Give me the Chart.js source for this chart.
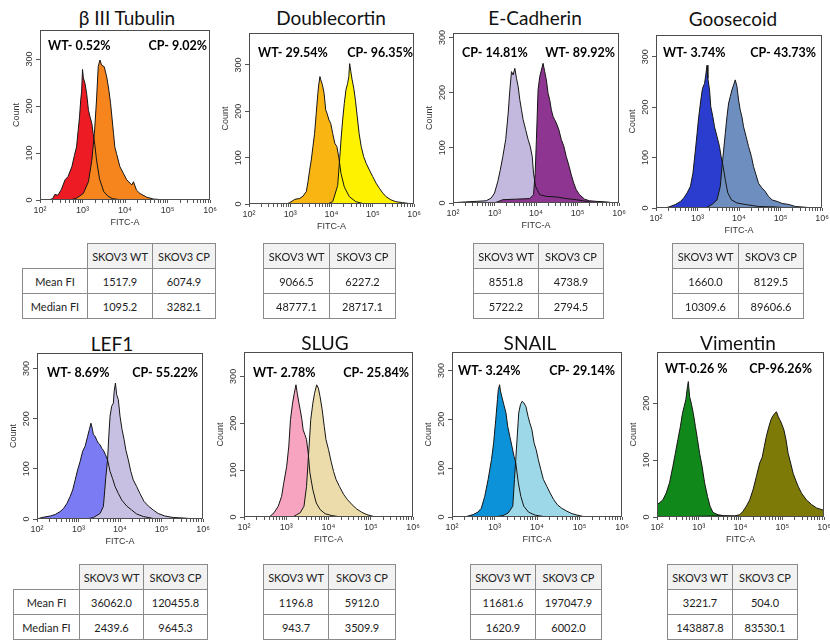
<!DOCTYPE html>
<html>
<head>
<meta charset="utf-8">
<script src="https://cdn.jsdelivr.net/npm/chart.js@4.4.1/dist/chart.umd.min.js"></script>
<style>
  body { margin: 0; background: #fff; }
  #fig { position: relative; width: 830px; height: 642px; overflow: hidden; background: #fff; }
  .ttl { position: absolute; font-family: Lato, "Open Sans", sans-serif; font-size: 19px; color: #111;
         transform: translate(-50%, -50%); white-space: nowrap; }
  .ann { position: absolute; font-family: Lato, sans-serif; font-weight: bold; font-size: 12.5px; color: #000;
         white-space: nowrap; transform: translateY(-50%); }
  canvas { position: absolute; }
  table { position: absolute; border-collapse: collapse; table-layout: fixed;
          font-family: Lato, "Open Sans", sans-serif; font-size: 11px; color: #222; }
  td { border: 1px solid #8a8a8a; text-align: center; padding: 0; height: 24px; box-sizing: border-box; }
  td.hd { background: #f2f2f2; }
  td.blank { border: none; }
</style>
</head>
<body>
<div id="fig"></div>
<script>
// Panel titles and the % labels written inside each plot
const titles = ['β III Tubulin', 'Doublecortin', 'E-Cadherin', 'Goosecoid', 'LEF1', 'SLUG', 'SNAIL', 'Vimentin'];
const leftLabels = ['WT- 0.52%', 'WT- 29.54%', 'CP- 14.81%', 'WT- 3.74%', 'WT- 8.69%', 'WT- 2.78%', 'WT- 3.24%', 'WT-0.26 %'];
const rightLabels = ['CP- 9.02%', 'CP- 96.35%', 'WT- 89.92%', 'CP- 43.73%', 'CP- 55.22%', 'CP- 25.84%', 'CP- 29.14%', 'CP-96.26%'];

// x axis (FITC-A, log) decades and their labels, y axis (Count) ticks
const xDecades = [100, 1000, 10000, 100000, 1000000];
const xTickLabels = ['10²', '10³', '10⁴', '10⁵', '10⁶'];
const yTicks = [0, 100, 200, 300];

// Histogram outlines: [log10(FITC-A), count]
const tubulinWT = [[2.2,0],[2.3,3],[2.35,12],[2.42,10],[2.5,22],[2.59,43],[2.66,50],[2.75,71],[2.81,95],[2.86,113],[2.9,150],[2.93,177],[2.96,215],[2.98,232],[3.0,278],[3.02,260],[3.06,248],[3.1,225],[3.14,191],[3.18,176],[3.22,163],[3.25,142],[3.29,118],[3.33,85],[3.4,45],[3.5,18],[3.6,8],[3.7,3],[3.85,1],[4.0,0]];
const tubulinCP = [[2.7,0],[2.86,4],[3.02,14],[3.14,39],[3.22,85],[3.28,142],[3.33,213],[3.37,284],[3.41,298],[3.45,287],[3.51,284],[3.57,262],[3.62,234],[3.66,206],[3.73,142],[3.76,113],[3.8,99],[3.88,71],[3.96,57],[4.04,43],[4.16,32],[4.2,39],[4.27,21],[4.35,14],[4.51,6],[4.67,2],[4.82,1],[5.0,0]];
const dcxWT = [[2.9,0],[2.99,3],[3.11,10],[3.23,12],[3.31,17],[3.39,27],[3.43,48],[3.47,73],[3.51,95],[3.55,124],[3.59,152],[3.63,196],[3.67,239],[3.69,257],[3.72,275],[3.74,268],[3.78,257],[3.82,239],[3.86,203],[3.89,196],[3.94,181],[3.98,174],[4.03,152],[4.08,131],[4.13,124],[4.18,99],[4.23,66],[4.31,37],[4.43,16],[4.59,5],[4.76,1],[4.9,0]];
const dcxCP = [[3.9,0],[4.03,5],[4.15,40],[4.2,100],[4.23,138],[4.27,181],[4.31,217],[4.35,246],[4.39,260],[4.42,275],[4.44,303],[4.47,285],[4.5,268],[4.54,250],[4.58,224],[4.62,192],[4.67,152],[4.72,124],[4.78,102],[4.84,88],[4.92,73],[5.0,59],[5.08,45],[5.16,34],[5.24,24],[5.32,16],[5.44,9],[5.56,5],[5.72,3],[5.88,1],[6.0,1]];
const ecadWT = [[3.0,0],[3.2,6],[3.53,7],[3.85,8],[3.94,15],[3.98,54],[4.01,115],[4.05,205],[4.09,229],[4.13,241],[4.17,253],[4.21,238],[4.25,223],[4.29,199],[4.33,187],[4.37,169],[4.41,157],[4.45,151],[4.49,145],[4.55,133],[4.61,115],[4.67,103],[4.73,84],[4.8,66],[4.85,51],[4.91,36],[4.97,24],[5.05,15],[5.17,7],[5.29,4],[5.45,3],[5.69,2],[5.9,0]];
const ecadCP = [[2.1,1],[2.3,2],[2.56,3],[2.8,4],[2.92,9],[3.0,18],[3.08,39],[3.14,60],[3.2,84],[3.27,115],[3.33,163],[3.37,205],[3.41,238],[3.45,232],[3.49,244],[3.53,226],[3.57,211],[3.61,187],[3.65,169],[3.69,151],[3.75,133],[3.81,115],[3.86,103],[3.91,84],[3.94,54],[3.99,30],[4.09,15],[4.25,12],[4.49,11],[4.73,8],[4.97,6],[5.21,3],[5.4,0]];
const gscWT = [[2.2,0],[2.31,2],[2.47,7],[2.59,13],[2.67,20],[2.75,30],[2.83,43],[2.89,69],[2.95,115],[2.99,148],[3.03,181],[3.08,214],[3.12,237],[3.17,247],[3.2,264],[3.23,283],[3.25,257],[3.29,234],[3.32,201],[3.37,181],[3.41,161],[3.47,142],[3.53,122],[3.57,102],[3.61,86],[3.67,56],[3.73,30],[3.82,16],[3.95,10],[4.15,7],[4.47,3],[4.88,2],[5.2,0]];
const gscCP = [[3.2,0],[3.35,7],[3.47,16],[3.55,43],[3.59,82],[3.63,115],[3.67,148],[3.71,181],[3.75,208],[3.79,221],[3.83,234],[3.87,244],[3.91,254],[3.95,241],[3.99,214],[4.03,194],[4.07,181],[4.11,161],[4.17,142],[4.23,122],[4.3,102],[4.35,82],[4.41,66],[4.47,49],[4.55,40],[4.63,33],[4.71,23],[4.8,16],[4.92,13],[5.04,9],[5.2,7],[5.36,3],[5.52,2],[5.8,0]];
const lefWT = [[2.0,0],[2.12,3],[2.32,6],[2.44,9],[2.56,15],[2.64,21],[2.72,31],[2.8,45],[2.86,58],[2.92,78],[2.98,98],[3.04,115],[3.1,135],[3.16,145],[3.22,165],[3.26,178],[3.3,191],[3.33,181],[3.36,168],[3.4,165],[3.44,157],[3.48,151],[3.52,148],[3.56,141],[3.6,137],[3.65,128],[3.7,118],[3.76,95],[3.82,81],[3.88,65],[3.96,51],[4.04,38],[4.16,26],[4.28,18],[4.4,10],[4.56,5],[4.8,1],[5.0,0]];
const lefCP = [[3.2,0],[3.36,3],[3.52,11],[3.6,25],[3.66,85],[3.7,118],[3.73,165],[3.76,205],[3.8,225],[3.84,231],[3.86,255],[3.89,271],[3.92,248],[3.96,238],[4.0,205],[4.05,178],[4.1,158],[4.14,138],[4.2,118],[4.26,95],[4.32,78],[4.4,65],[4.48,51],[4.58,35],[4.68,26],[4.8,18],[4.92,11],[5.08,6],[5.28,3],[5.52,2],[5.8,0]];
const slugWT = [[2.5,0],[2.61,1],[2.71,9],[2.81,23],[2.89,44],[2.94,72],[3.01,108],[3.06,151],[3.1,208],[3.15,243],[3.19,264],[3.23,282],[3.26,264],[3.3,243],[3.33,229],[3.37,208],[3.4,186],[3.44,176],[3.48,165],[3.52,136],[3.56,94],[3.63,58],[3.71,30],[3.8,16],[3.92,7],[4.08,3],[4.3,0]];
const slugCP = [[3.0,0],[3.17,1],[3.33,9],[3.42,23],[3.48,65],[3.53,136],[3.58,208],[3.63,243],[3.67,264],[3.72,282],[3.76,275],[3.8,257],[3.85,229],[3.9,193],[3.94,165],[4.0,144],[4.06,119],[4.12,97],[4.18,80],[4.26,65],[4.36,48],[4.45,37],[4.56,26],[4.67,17],[4.79,10],[4.91,5],[5.07,1],[5.2,0]];
const snailWT = [[2.2,0],[2.34,1],[2.5,5],[2.61,10],[2.69,18],[2.77,42],[2.85,77],[2.93,118],[2.98,152],[3.03,200],[3.07,241],[3.09,261],[3.12,271],[3.14,258],[3.18,244],[3.22,230],[3.27,213],[3.31,186],[3.36,165],[3.41,145],[3.46,124],[3.5,111],[3.56,70],[3.62,42],[3.69,22],[3.8,10],[3.95,4],[4.15,1],[4.3,0]];
const snailCP = [[3.0,0],[3.2,3],[3.32,8],[3.43,22],[3.47,77],[3.5,118],[3.54,172],[3.57,213],[3.61,230],[3.65,237],[3.69,234],[3.74,226],[3.79,206],[3.83,193],[3.88,179],[3.93,152],[3.98,138],[4.03,118],[4.09,97],[4.15,77],[4.23,63],[4.31,49],[4.39,36],[4.48,25],[4.58,18],[4.7,12],[4.82,7],[4.94,4],[5.09,1],[5.3,0]];
const vimWT = [[2.0,22],[2.06,25],[2.14,30],[2.22,42],[2.3,60],[2.38,89],[2.44,112],[2.5,136],[2.56,159],[2.61,182],[2.65,194],[2.69,206],[2.73,229],[2.75,238],[2.78,212],[2.82,200],[2.87,182],[2.92,159],[2.97,136],[3.02,112],[3.08,89],[3.14,60],[3.21,36],[3.27,19],[3.34,8],[3.46,4],[3.62,2],[3.86,1],[4.0,0]];
const vimCP = [[2.7,0],[2.82,1],[3.46,2],[3.86,2],[3.98,4],[4.06,10],[4.14,19],[4.22,30],[4.3,48],[4.38,71],[4.46,95],[4.52,105],[4.57,124],[4.62,142],[4.68,159],[4.73,171],[4.77,177],[4.82,182],[4.86,185],[4.9,177],[4.94,171],[4.98,165],[5.04,153],[5.09,136],[5.14,112],[5.2,95],[5.26,77],[5.32,65],[5.38,54],[5.46,42],[5.58,30],[5.7,22],[5.82,16],[5.94,13],[6.0,12]];

const wtSeries = [tubulinWT, dcxWT, ecadWT, gscWT, lefWT, slugWT, snailWT, vimWT];
const cpSeries = [tubulinCP, dcxCP, ecadCP, gscCP, lefCP, slugCP, snailCP, vimCP];
const yMax = [362, 369, 308, 343, 331, 352, 338, 290];

// Table values (SKOV3 WT / SKOV3 CP)
const tableHead = ['SKOV3 WT', 'SKOV3 CP'];
const rowNames = ['Mean FI', 'Median FI'];
const meanWT = [1517.9, 9066.5, 8551.8, 1660.0, 36062.0, 1196.8, 11681.6, 3221.7];
const meanCP = [6074.9, 6227.2, 4738.9, 8129.5, 120455.8, 5912.0, 197047.9, 504.0];
const medianWT = [1095.2, 48777.1, 5722.2, 10309.6, 2439.6, 943.7, 1620.9, 143887.8];
const medianCP = [3282.1, 28717.1, 2794.5, 89606.6, 9645.3, 3509.9, 6002.0, 83530.1];

// ---- layout / style (page pixels) ----
const boxes = [[40,30,210,200],[249,33,414,204],[453,33,619,203],[656,35,822,208],
               [37,353,203,519],[244,352,413,517],[452,352,622,517],[657,352,824,517]];
const titlePos = [[127,17],[331,17],[535,17],[733,18],[112,343],[325,342],[530,342],[738,342]];
const annLeftX = [48, 258, 462, 663, 47, 253, 458, 665];
const annRightX = [207, 413, 615, 816, 198, 409, 615, 812];
const annY = [45, 52, 52, 52, 372, 372, 370, 368];
const wtColors = ['#ed1c24','#f9b512','#8e3591','#2b3dcf','#7b7bf4','#f7a4c1','#0b92d8','#11891a'];
const cpColors = ['#f7851e','#fff200','#c3b9de','#6d8ebf','#c8c0e2','#ecdcab','#9cd8e8','#7e7a08'];
const wtOnTop = [false, false, true, false, false, false, false, false];
const tablePos = [[22,243,[65,65,63]],[263,243,[66,66]],[473,243,[65,65]],[672,243,[66,65]],
                  [13,564,[66,64,64]],[263,564,[65,67]],[470,564,[65,66]],[667,564,[65,65]]];

const fig = document.getElementById('fig');
const axisFont = '"Liberation Sans", Arial, sans-serif';

// minor ticks 2..9 inside every decade
const xTickValues = [];
xDecades.forEach((d, i) => {
    xTickValues.push(d);
    if (i < xDecades.length - 1) for (let m = 2; m <= 9; m++) xTickValues.push(d * m);
});

// frame round the plot + rotated y labels like the cytometer export
const framePlugin = {
    id: 'frame',
    afterDraw(chart) {
        const ctx = chart.ctx;
        const a = chart.chartArea;
        const y = chart.scales.y;
        ctx.save();
        ctx.strokeStyle = '#4d4d4d';
        ctx.lineWidth = 1;
        ctx.strokeRect(Math.round(a.left) + 0.5, Math.round(a.top) + 0.5,
                       Math.round(a.right - a.left) - 1, Math.round(a.bottom - a.top) - 1);
        ctx.fillStyle = '#333';
        ctx.font = '9px ' + axisFont;
        ctx.textAlign = 'center';
        ctx.textBaseline = 'middle';
        y.ticks.forEach(t => {
            ctx.save();
            ctx.translate(a.left - 10, y.getPixelForValue(t.value));
            ctx.rotate(-Math.PI / 2);
            ctx.fillText(String(t.value), 0, 0);
            ctx.restore();
        });
        ctx.translate(a.left - 23, (a.top + a.bottom) / 2);
        ctx.rotate(-Math.PI / 2);
        ctx.fillText('Count', 0, 0);
        ctx.restore();
    }
};

const toPoints = arr => arr.map(p => ({ x: Math.pow(10, p[0]), y: p[1] }));

titles.forEach((name, k) => {
    const [l, t, r, b] = boxes[k];

    // title
    const ttl = document.createElement('div');
    ttl.className = 'ttl';
    ttl.textContent = name;
    ttl.style.left = titlePos[k][0] + 'px';
    ttl.style.top = titlePos[k][1] + 'px';
    fig.appendChild(ttl);

    // canvas sized so the chart area lands on the box
    const padL = 40, padT = 6, padR = 12, padB = 28;
    const W = r - l + padL + padR, H = b - t + padT + padB;
    const cv = document.createElement('canvas');
    cv.width = W; cv.height = H;
    cv.style.width = W + 'px'; cv.style.height = H + 'px';
    cv.style.left = (l - padL) + 'px';
    cv.style.top = (t - padT) + 'px';
    fig.appendChild(cv);

    const wtFill = { data: toPoints(wtSeries[k]), fill: 'origin', backgroundColor: wtColors[k],
                     borderColor: 'rgba(0,0,0,0)', pointRadius: 0, order: wtOnTop[k] ? 1 : 2 };
    const cpFill = { data: toPoints(cpSeries[k]), fill: 'origin', backgroundColor: cpColors[k],
                     borderColor: 'rgba(0,0,0,0)', pointRadius: 0, order: wtOnTop[k] ? 2 : 1 };
    const wtLine = { data: toPoints(wtSeries[k]), fill: false, borderColor: '#151515', borderWidth: 1, pointRadius: 0, order: 0 };
    const cpLine = { data: toPoints(cpSeries[k]), fill: false, borderColor: '#151515', borderWidth: 1, pointRadius: 0, order: 0 };

    new Chart(cv, {
        type: 'line',
        data: { datasets: [wtLine, cpLine, cpFill, wtFill] },
        options: {
            responsive: false,
            animation: false,
            events: [],
            layout: { padding: { left: 0, top: padT, right: padR, bottom: 0 } },
            plugins: { legend: { display: false }, tooltip: { enabled: false } },
            elements: { line: { tension: 0 } },
            scales: {
                x: {
                    type: 'logarithmic',
                    min: xDecades[0],
                    max: xDecades[xDecades.length - 1],
                    afterBuildTicks: s => { s.ticks = xTickValues.map(v => ({ value: v })); },
                    afterFit: s => { s.height = padB; s.paddingLeft = 0; s.paddingRight = 0; },
                    border: { display: false },
                    grid: { drawOnChartArea: false, drawTicks: true, tickLength: 3, tickColor: '#555' },
                    ticks: {
                        autoSkip: false, maxRotation: 0, minRotation: 0, padding: 2, color: '#333',
                        font: { family: axisFont, size: 9 },
                        callback: v => {
                            const i = xDecades.indexOf(v);
                            return i >= 0 ? xTickLabels[i] : '';
                        }
                    },
                    title: { display: true, text: 'FITC-A', color: '#333', padding: 0, font: { family: axisFont, size: 9 } }
                },
                y: {
                    min: 0,
                    max: yMax[k],
                    afterBuildTicks: s => { s.ticks = yTicks.filter(v => v <= yMax[k]).map(v => ({ value: v })); },
                    afterFit: s => { s.width = padL; },
                    border: { display: false },
                    grid: { drawOnChartArea: false, drawTicks: true, tickLength: 4, tickColor: '#555' },
                    ticks: { display: false }
                }
            }
        },
        plugins: [framePlugin]
    });

    // % labels
    const a1 = document.createElement('div');
    a1.className = 'ann';
    a1.textContent = leftLabels[k];
    a1.style.left = annLeftX[k] + 'px';
    a1.style.top = annY[k] + 'px';
    fig.appendChild(a1);
    const a2 = document.createElement('div');
    a2.className = 'ann';
    a2.textContent = rightLabels[k];
    a2.style.right = (830 - annRightX[k]) + 'px';
    a2.style.top = annY[k] + 'px';
    fig.appendChild(a2);

    // table under the panel
    const [tx, ty, cols] = tablePos[k];
    const withNames = cols.length === 3;
    const tb = document.createElement('table');
    tb.style.left = tx + 'px';
    tb.style.top = ty + 'px';
    let html = '<colgroup>' + cols.map(w => '<col style="width:' + w + 'px">').join('') + '</colgroup>';
    html += '<tr style="height:25px">' + (withNames ? '<td class="blank"></td>' : '') +
            tableHead.map(h => '<td class="hd">' + h + '</td>').join('') + '</tr>';
    const rows = [[meanWT[k], meanCP[k]], [medianWT[k], medianCP[k]]];
    rows.forEach((row, ri) => {
        html += '<tr style="height:25px">' + (withNames ? '<td>' + rowNames[ri] + '</td>' : '') +
                row.map(v => '<td>' + v.toFixed(1) + '</td>').join('') + '</tr>';
    });
    tb.innerHTML = html;
    tb.style.width = cols.reduce((s, w) => s + w, 0) + 'px';
    fig.appendChild(tb);
});
</script>
</body>
</html>
